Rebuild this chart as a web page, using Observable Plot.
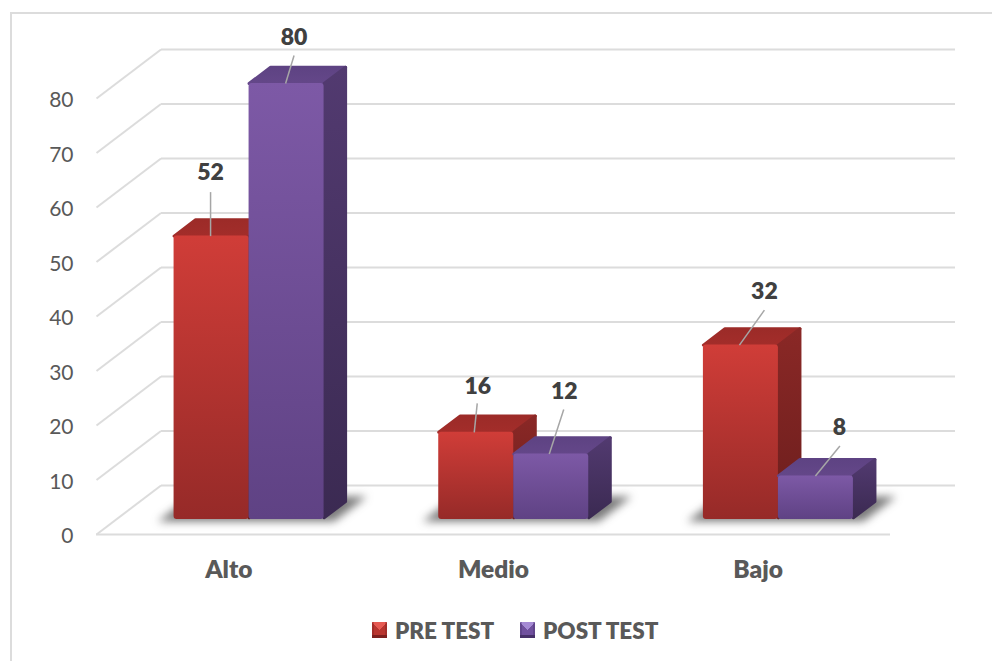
<!DOCTYPE html>
<html>
<head>
<meta charset="utf-8">
<script src="https://cdn.jsdelivr.net/npm/d3@7"></script>
<script src="https://cdn.jsdelivr.net/npm/@observablehq/plot@0.6"></script>
<style>
html,body{margin:0;padding:0;background:#fff;}
#frame{position:relative;width:992px;height:661px;overflow:hidden;font-family:Lato,sans-serif;}
#border{position:absolute;left:10px;top:12px;width:990px;height:660px;border:2px solid #dcdcdc;box-sizing:border-box;}
#chart{position:absolute;left:0;top:0;}
#chart svg{display:block;background:transparent;}
#legend{position:absolute;left:0;top:612px;width:992px;height:36px;display:flex;font-weight:800;font-size:22.5px;color:#595959;}
.item{position:absolute;top:0;display:flex;align-items:center;height:36px;}
.sw{display:inline-block;width:15px;height:16px;margin-right:8px;}
</style>
</head>
<body>
<div id="frame">
  <div id="border"></div>
  <div id="chart"></div>
  <div id="legend"></div>
</div>
<script>
const categories = ["Alto", "Medio", "Bajo"];
const preTest = [52, 16, 32];
const postTest = [80, 12, 8];
const seriesNames = ["PRE TEST", "POST TEST"];
const yTicks = [0, 10, 20, 30, 40, 50, 60, 70, 80];

// Oblique 3D layout, in scale units
const pxX = 794 / 3, pxY = 436 / 80;
const depthX = 64.5 / pxX, depthY = 49 / pxY;
const barNear = 0.306, barFar = 0.64, barWidth = 75 / pxX;
const barShift = 0.5 / pxX;
const proj = (c, v, d) => ({x: c + d * depthX, y: v + d * depthY});

// Leader ends and label centres, relative to each bar's top, in pixels
const leaderEnd = [[[-1,-44],[1,-29],[23.5,-35]], [[7.5,-28],[12.5,-44.5],[24,-30]]];
const leaderStart = [[-1,-2,-1.5], [-1,-2,-0.5]];
const labelShift = [[[-1,-63],[1.5,-46],[23.5,-53]], [[7.5,-46],[13,-62.5],[23.5,-48]]];

const values = [preTest, postTest];
const palette = ["red", "purple"];

function face(id, pts) { return pts.map(p => ({id, ...p})); }
const rightEdge = (s, i) => i + 0.5 + barShift + (s === 0 ? 0 : barWidth);

const sideFaces = s => categories.flatMap((_, i) => {
  const v = values[s][i], c = rightEdge(s, i);
  return face(i, [proj(c,0.3,barNear), proj(c,0.3,barFar), proj(c,v,barFar), proj(c,v,barNear)]);
});
const topFaces = s => categories.flatMap((_, i) => {
  const v = values[s][i], r = rightEdge(s, i), l = r - barWidth;
  return face(i, [proj(l,v,barNear), proj(r,v,barNear), proj(r,v,barFar), proj(l,v,barFar)]);
});
const fronts = s => categories.map((_, i) => {
  const r = rightEdge(s, i), l = r - barWidth;
  return {a: proj(l,0,barNear), b: proj(r,values[s][i],barNear)};
});
const shadows = categories.flatMap((_, i) => {
  const w = 88 / pxX, c = i + 0.5;
  return face(i, [proj(c-w,0,0.265), proj(c+w,0,0.265), proj(c+w,0,0.775), proj(c-w,0,0.775)]);
});

const leaders = [0,1].flatMap(s => categories.map((_, i) => {
  const cx = rightEdge(s, i) - barWidth/2;
  const top = proj(cx, values[s][i], barNear);
  const e = leaderEnd[s][i], st = leaderStart[s][i], t = labelShift[s][i];
  return {
    x1: top.x + st/pxX, y1: top.y,
    x2: top.x + e[0]/pxX, y2: top.y - e[1]/pxY,
    tx: top.x + t[0]/pxX, ty: top.y - t[1]/pxY,
    label: values[s][i]
  };
}));

const backGrid = yTicks.map(v => ({a: proj(0,v,1), b: proj(3,v,1)}));
const diagGrid = yTicks.map(v => ({a: proj(0,v,0), b: proj(0,v,1)}));

const grad = (id, top, bottom) => `<linearGradient id="${id}" x1="0" y1="0" x2="0" y2="1"><stop offset="0" stop-color="${top}"/><stop offset="1" stop-color="${bottom}"/></linearGradient>`;
const defs = () => {
  const g = document.createElementNS("http://www.w3.org/2000/svg", "defs");
  g.innerHTML =
    grad("front-red", "#d03d38", "#962a28") + grad("front-purple", "#7d59a6", "#5f4284") +
    grad("top-red", "#9c2b28", "#a32d2a") + grad("top-purple", "#5e4383", "#644789") +
    grad("side-red", "#8a2826", "#6c1e1d") + grad("side-purple", "#523a70", "#3b2a52");
  return g;
};

const gridStyle = {stroke: "#dcdcdc", strokeWidth: 2};
const barMarks = s => {
  const n = palette[s];
  const faceStyle = t => ({x: "x", y: "y", z: "id", fill: `url(#${t}-${n})`, stroke: `url(#${t}-${n})`, strokeWidth: 3, strokeLinejoin: "round", curve: "linear-closed"});
  return [
    Plot.line(topFaces(s), faceStyle("top")),
    Plot.line(sideFaces(s), faceStyle("side")),
    Plot.rect(fronts(s), {x1: d => d.a.x, x2: d => d.b.x, y1: d => d.a.y, y2: d => d.b.y, fill: `url(#front-${n})`, rx: 3})
  ];
};

const plot = Plot.plot({
  width: 992, height: 600,
  marginLeft: 96, marginRight: 102, marginTop: 40, marginBottom: 66,
  style: {fontFamily: "Lato, sans-serif", background: "transparent", overflow: "visible"},
  x: {domain: [0, 3], range: [96, 890]},
  y: {domain: [0, 80], range: [534, 98]},
  marks: [
    defs,
    Plot.link(backGrid, {x1: d => d.a.x, y1: d => d.a.y, x2: d => d.b.x, y2: d => d.b.y, ...gridStyle}),
    Plot.link(diagGrid, {x1: d => d.a.x, y1: d => d.a.y, x2: d => d.b.x, y2: d => d.b.y, ...gridStyle}),
    Plot.ruleY([0], {x1: 0, x2: 3, ...gridStyle}),
    Plot.line(shadows, {x: "x", y: "y", z: "id", fill: "#333", stroke: "none", fillOpacity: 0.65, curve: "linear-closed", imageFilter: "blur(4px)"}),
    ...barMarks(0),
    ...barMarks(1),
    Plot.link(leaders, {x1: "x1", y1: "y1", x2: "x2", y2: "y2", stroke: "#a6a6a6", strokeWidth: 1.5}),
    Plot.text(leaders, {x: "tx", y: "ty", text: "label", fontSize: 23, fontWeight: 800, fill: "#404040"}),
    Plot.axisY({ticks: yTicks, tickSize: 0, tickPadding: 23, fontSize: 21, color: "#595959", label: null, dy: 2}),
    Plot.axisX({ticks: [0.5, 1.5, 2.5], tickFormat: d => categories[d - 0.5], tickSize: 0, tickPadding: 26, fontSize: 24.5, fontWeight: 800, color: "#595959", label: null})
  ]
});
document.getElementById("chart").append(plot);

const swatches = [["#e65a52", "#b8352f", "#7c1f1e"], ["#a58ad4", "#70509e", "#463068"]];
const legendX = [372, 520];
const legend = document.getElementById("legend");
seriesNames.forEach((name, i) => {
  const [hi, mid, lo] = swatches[i];
  const item = document.createElement("div");
  item.className = "item";
  item.style.left = legendX[i] + "px";
  const sw = document.createElement("span");
  sw.className = "sw";
  sw.style.background = `conic-gradient(from -45deg, ${hi} 0 25%, ${mid} 25% 75%, ${mid} 75% 100%)`;
  sw.style.boxShadow = `inset 0 -3px 0 ${lo}, inset 2px 0 0 ${lo}55, inset -2px 0 0 ${lo}55`;
  const t = document.createElement("span");
  t.textContent = name;
  item.append(sw, t);
  legend.append(item);
});
</script>
</body>
</html>
